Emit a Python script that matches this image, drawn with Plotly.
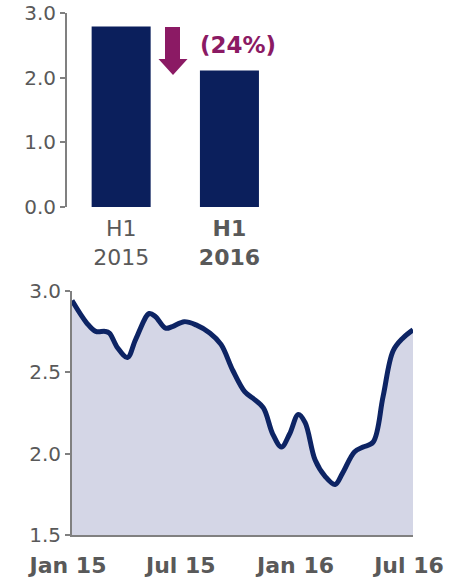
import plotly.graph_objects as go

# ---- data ----
bar_categories = ["H1<br>2015", "<b>H1</b><br><b>2016</b>"]
bar_values = [2.79, 2.11]
change_label = "(24%)"

line_dates = [
    "2015-01-01", "2015-01-25", "2015-02-08", "2015-02-23", "2015-03-02", "2015-03-15",
    "2015-03-31", "2015-04-13", "2015-05-05", "2015-05-15", "2015-05-31", "2015-06-11",
    "2015-06-30", "2015-07-19", "2015-08-10", "2015-08-28", "2015-09-16", "2015-10-05",
    "2015-10-18", "2015-11-04", "2015-11-19", "2015-12-03", "2015-12-16", "2015-12-30",
    "2016-01-10", "2016-01-26", "2016-02-11", "2016-02-27", "2016-03-10", "2016-03-29",
    "2016-04-12", "2016-04-28", "2016-05-14", "2016-05-30", "2016-06-15", "2016-07-01",
]
line_values = [
    2.94, 2.80, 2.75, 2.75, 2.74, 2.65,
    2.59, 2.70, 2.86, 2.84, 2.77, 2.78,
    2.81, 2.79, 2.74, 2.67, 2.51, 2.38,
    2.34, 2.28, 2.12, 2.04, 2.12, 2.24,
    2.19, 1.96, 1.86, 1.81, 1.88, 2.01,
    2.04, 2.07, 2.35, 2.63, 2.71, 2.76,
]
line_tickvals = ["2015-01-01", "2015-07-01", "2016-01-01", "2016-07-01"]
line_ticktext = ["Jan 15", "Jul 15", "Jan 16", "Jul 16"]

W, H = 458, 580
FONT = "DejaVu Sans"
GRAY = "#595959"
AXIS = "#808080"
NAVY = "#0B1F5C"
PURPLE = "#8B1A64"


def px(x):
    return x / W


def py(y):
    return 1 - y / H


fig = go.Figure()

fig.add_trace(go.Bar(
    x=[0, 1], y=bar_values, width=0.545, marker=dict(color=NAVY, line=dict(width=0)),
    xaxis="x", yaxis="y", showlegend=False, hoverinfo="skip",
))

fig.add_trace(go.Scatter(
    x=line_dates, y=line_values, mode="lines",
    line=dict(color="#0D2464", width=5, shape="spline", smoothing=1.0),
    fill="tozeroy", fillcolor="#D4D6E6",
    xaxis="x2", yaxis="y2", showlegend=False, hoverinfo="skip",
))

# decorative down arrow (pixel-positioned)
pts = [(165, 27), (180, 27), (180, 59), (187.5, 59), (173, 75), (158.5, 59), (165, 59)]
path = "M " + " L ".join(f"{px(x):.5f},{py(y):.5f}" for x, y in pts) + " Z"
fig.add_shape(type="path", path=path, xref="paper", yref="paper",
              fillcolor=PURPLE, line=dict(width=0))

fig.add_annotation(text=f"<b>{change_label}</b>", x=px(238), y=py(45), xref="paper", yref="paper",
                   showarrow=False, font=dict(family=FONT, size=23, color=PURPLE),
                   xanchor="center", yanchor="middle")

fig.update_layout(
    width=W, height=H, margin=dict(l=0, r=0, t=0, b=0),
    paper_bgcolor="white", plot_bgcolor="white",
    font=dict(family=FONT, color=GRAY),
    xaxis=dict(domain=[px(67), px(289)], range=[-0.5, 1.55], tickvals=[0, 1],
               ticktext=bar_categories, showline=False, showgrid=False, zeroline=False,
               ticks="", tickfont=dict(size=22, color=GRAY), ticklabelstandoff=6,
               automargin=False),
    yaxis=dict(domain=[py(207), py(13)], range=[0, 3], tickvals=[0, 1, 2, 3],
               tickformat=".1f", showline=True, linecolor=AXIS, linewidth=2,
               ticks="outside", ticklen=5, tickcolor=AXIS, tickwidth=2,
               showgrid=False, zeroline=False, tickfont=dict(size=20, color=GRAY),
               automargin=False, ticklabeloverflow="allow"),
    xaxis2=dict(domain=[px(72), px(413)], range=["2015-01-01", "2016-07-01"],
                tickvals=line_tickvals, ticktext=line_ticktext, anchor="y2",
                showline=True, linecolor=AXIS, linewidth=2, ticks="", showgrid=False,
                zeroline=False, tickfont=dict(size=22, color=GRAY, family=FONT, weight="bold"),
                ticklabelshift=-4, ticklabelstandoff=10, automargin=False,
                ticklabeloverflow="allow"),
    yaxis2=dict(domain=[py(535), py(290.7)], range=[1.5, 3.0], tickvals=[1.5, 2.0, 2.5, 3.0],
                tickformat=".1f", anchor="x2", showline=True, linecolor=AXIS, linewidth=2,
                ticks="outside", ticklen=5, tickcolor=AXIS, tickwidth=2, showgrid=False,
                zeroline=False, tickfont=dict(size=20, color=GRAY), automargin=False),
)

# remove the browser's default 8px body margin so the figure fills the window exactly
fig.write_html("out.html", config={"displayModeBar": False},
               post_script="document.body.style.margin='0';")
